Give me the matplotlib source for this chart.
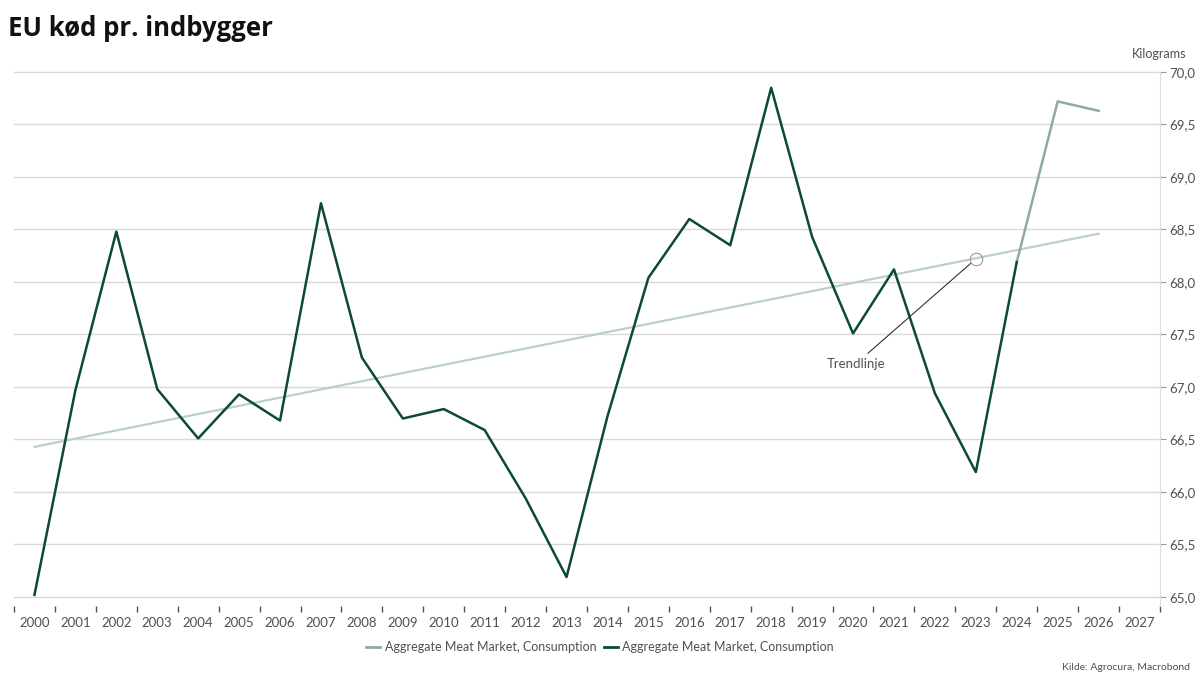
import matplotlib
matplotlib.use("Agg")
import matplotlib.pyplot as plt
import numpy as np
from matplotlib.lines import Line2D

years = list(range(2000, 2028))
hist_years = list(range(2000, 2025))
hist_values = [65.02, 66.97, 68.48, 66.98, 66.51, 66.93, 66.68, 68.75, 67.28, 66.70,
               66.79, 66.59, 65.94, 65.19, 66.72, 68.04, 68.60, 68.35, 69.85, 68.43,
               67.51, 68.12, 66.94, 66.19, 68.19]
fc_years = [2024, 2025, 2026]
fc_values = [68.19, 69.72, 69.63]
trend_years = [2000, 2026]
trend_values = [66.43, 68.46]
yticks = [65.0, 65.5, 66.0, 66.5, 67.0, 67.5, 68.0, 68.5, 69.0, 69.5, 70.0]
series_name = "Aggregate Meat Market, Consumption"

plt.rcParams['font.family'] = ['Lato', 'DejaVu Sans']

dark = "#0d4a33"
light = "#8fab9f"
trend_c = "#bccdd2"
grid_c = "#d9d9d9"
text_c = "#505050"

fig = plt.figure(figsize=(12, 6.85), dpi=100)
W, H = 1200, 685
left, right, top, bottom = 14, 1160, 72, 606
ax = fig.add_axes([left / W, 1 - bottom / H, (right - left) / W, (bottom - top) / H])

ymin = 65.0 - (606 - 597) / 105.0
ax.set_ylim(ymin, 70.0)
ax.set_xlim(-0.5, len(years) - 0.5)

def xi(ys):
    return [y - years[0] for y in ys]

ax.plot(xi(trend_years), trend_values, color=trend_c, lw=1.6, zorder=2)
ax.plot(xi(fc_years), fc_values, color=light, lw=1.8, zorder=3)
ax.plot(xi(hist_years), hist_values, color=dark, lw=1.8, zorder=4)

for t in yticks:
    ax.axhline(t, color=grid_c, lw=1.0, zorder=1, clip_on=False)

ax.yaxis.tick_right()
ax.set_yticks(yticks)
ax.set_yticklabels([f"{t:.1f}".replace(".", ",") for t in yticks], color=text_c, fontsize=9.5)
ax.tick_params(axis='y', length=4, color="#999999", pad=3)

ax.set_xticks(np.arange(len(years)))
ax.set_xticklabels([str(y) for y in years], color=text_c, fontsize=9.5)
ax.tick_params(axis='x', which='major', length=0, pad=8)
ax.set_xticks(np.arange(len(years) + 1) - 0.5, minor=True)
ax.tick_params(axis='x', which='minor', length=4, color="#555555", width=1.0, direction='out')

for s in ['top', 'left', 'bottom']:
    ax.spines[s].set_visible(False)
ax.spines['right'].set_color("#dddddd")

# Annotation
circle_x = 2023 - years[0]
circle_y = 68.22
ax.plot([circle_x], [circle_y], marker='o', ms=9, mfc='none', mec='#999999', mew=0.8, zorder=5)
ax.annotate("Trendlinje", xy=(circle_x, circle_y), xycoords='data',
            xytext=(885, H - 364), textcoords='figure pixels',
            fontsize=9.5, color=text_c, ha='right', va='center',
            arrowprops=dict(arrowstyle='-', color='#333333', lw=0.8, shrinkA=2, shrinkB=5))

fig.text(8 / W, 1 - 28 / H, "EU kød pr. indbygger", fontsize=18.5, fontweight='bold',
         color="#111111", va='center', ha='left', family=['Open Sans', 'DejaVu Sans'])
fig.text(1186 / W, 1 - 54 / H, "Kilograms", fontsize=9, color=text_c, ha='right', va='center')
fig.text(1190 / W, 1 - 668 / H, "Kilde: Agrocura, Macrobond", fontsize=7.5, color=text_c,
         ha='right', va='center')

handles = [Line2D([], [], color=light, lw=2), Line2D([], [], color=dark, lw=2)]
fig.legend(handles, [series_name, series_name], loc='center', bbox_to_anchor=(600 / W, 1 - 647 / H),
           ncol=2, frameon=False, fontsize=9, handlelength=1.1, handletextpad=0.4,
           columnspacing=0.6, labelcolor=text_c)

fig.savefig("out.png", dpi=100)
